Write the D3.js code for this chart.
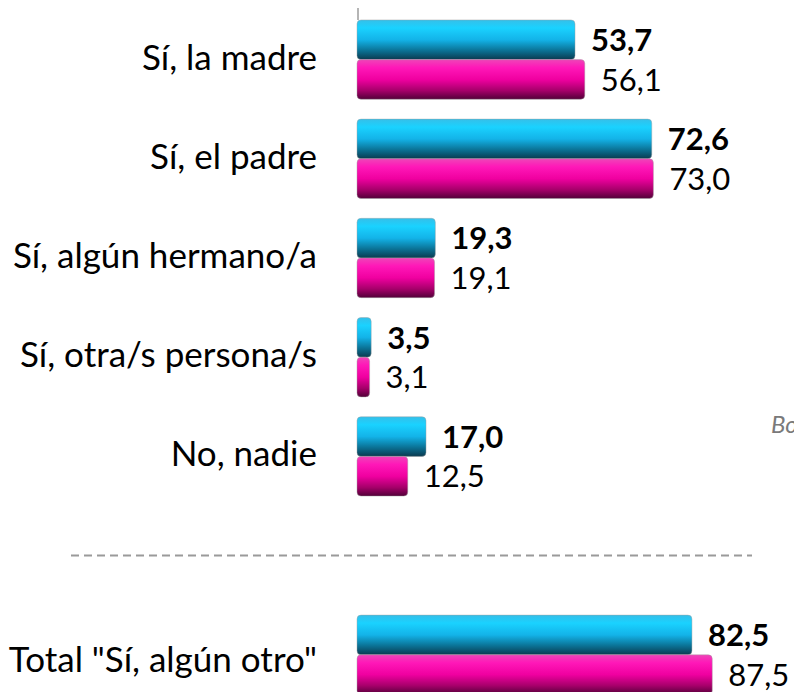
<!DOCTYPE html>
<html>
<head>
<meta charset="utf-8">
<script src="https://cdn.jsdelivr.net/npm/d3@7"></script>
<style>
  body { margin: 0; background: #fff; }
  svg { display: block; font-family: Lato, "Open Sans", sans-serif; }
  .cat-label { font-size: 35px; fill: #000; }
  .val-label { font-size: 31px; fill: #000; }
  .val-label.bold { font-weight: 700; }
  .side-note { font-size: 24px; font-style: italic; fill: #7a7a7a; }
</style>
</head>
<body>
<div id="chart"></div>
<script>
// categories, top to bottom (the last one sits below the dashed separator)
const categories = ["Sí, la madre", "Sí, el padre", "Sí, algún hermano/a", "Sí, otra/s persona/s", "No, nadie", "Total \"Sí, algún otro\""];
const seriesBlue = [53.7, 72.6, 19.3, 3.5, 17.0, 82.5];
const seriesPink = [56.1, 73.0, 19.1, 3.1, 12.5, 87.5];
const sideNote = "Bo";

const width = 794, height = 692;

const svg = d3.select('#chart').append('svg')
    .attr('width', width)
    .attr('height', height);

// gradients that give the bars their cylinder look
const defs = svg.append('defs');
const gradients = [
  { id: 'grad-blue', stops: [['0%', '#35bfe9'], ['20%', '#1ad2ff'], ['50%', '#13b3e8'], ['76%', '#0b7599'], ['100%', '#0a3a4f']] },
  { id: 'grad-pink', stops: [['0%', '#ee45b8'], ['20%', '#ff18b8'], ['50%', '#f000a0'], ['78%', '#a6006a'], ['100%', '#520038']] }
];
gradients.forEach(g => {
  const lg = defs.append('linearGradient')
      .attr('id', g.id)
      .attr('x1', 0).attr('y1', 0).attr('x2', 0).attr('y2', 1);
  lg.selectAll('stop')
      .data(g.stops)
    .join('stop')
      .attr('offset', d => d[0])
      .attr('stop-color', d => d[1]);
});

// one empty slot between the detail rows and the total row
const slots = [...categories.slice(0, 5), '__sep', categories[5]];

const y = d3.scaleBand()
    .domain(slots)
    .range([10, 704.4])
    .paddingInner(0.2)
    .paddingOuter(0.1);

const yInner = d3.scaleBand()
    .domain(['blue', 'pink'])
    .range([0, y.bandwidth()]);

const x = d3.scaleLinear()
    .domain([0, 100])
    .range([357, 763]);

const fmt = d3.formatLocale({decimal: ',', thousands: '.', grouping: [3], currency: ['', '€']}).format('.1f');

const rows = categories.map((c, i) => ({cat: c, blue: seriesBlue[i], pink: seriesPink[i], total: i === 5}));

// small axis stub visible above the first bar
svg.append('line')
    .attr('x1', x(0) + 1).attr('x2', x(0) + 1)
    .attr('y1', y(categories[0]) - 12).attr('y2', y(categories[0]))
    .attr('stroke', '#b5b5b5')
    .attr('stroke-width', 2);

const group = svg.selectAll('.row')
    .data(rows)
  .join('g')
    .attr('class', 'row')
    .attr('transform', d => `translate(0,${y(d.cat)})`);

const series = [
  { key: 'blue', fill: 'url(#grad-blue)', bold: true },
  { key: 'pink', fill: 'url(#grad-pink)', bold: false }
];

series.forEach(s => {
  group.append('rect')
      .attr('x', x(0))
      .attr('y', yInner(s.key))
      .attr('width', d => x(d[s.key]) - x(0))
      .attr('height', yInner.bandwidth())
      .attr('rx', 4)
      .attr('fill', s.fill)
      .attr('stroke', '#a0a0a0')
      .attr('stroke-opacity', 0.55)
      .attr('stroke-width', 0.8);

  group.append('text')
      .attr('class', 'val-label' + (s.bold ? ' bold' : ''))
      .attr('x', d => x(d[s.key]) + 16)
      .attr('y', yInner(s.key) + yInner.bandwidth() / 2)
      .attr('dy', '0.36em')
      .text(d => fmt(d[s.key]));
});

group.append('text')
    .attr('class', 'cat-label')
    .attr('text-anchor', 'end')
    .attr('x', 317)
    .attr('y', d => y.bandwidth() / 2 + (d.total ? 17 : 10))
    .text(d => d.cat);

// dashed separator in the empty slot
const sepY = y('__sep') + y.bandwidth() / 2;
svg.append('line')
    .attr('x1', 71).attr('x2', 752)
    .attr('y1', sepY).attr('y2', sepY)
    .attr('stroke', '#9a9a9a')
    .attr('stroke-width', 2)
    .attr('stroke-dasharray', '8,5');

// note text clipped by the right edge, as in the source slide
svg.append('text')
    .attr('class', 'side-note')
    .attr('x', 771)
    .attr('y', 433)
    .text(sideNote);
</script>
</body>
</html>
